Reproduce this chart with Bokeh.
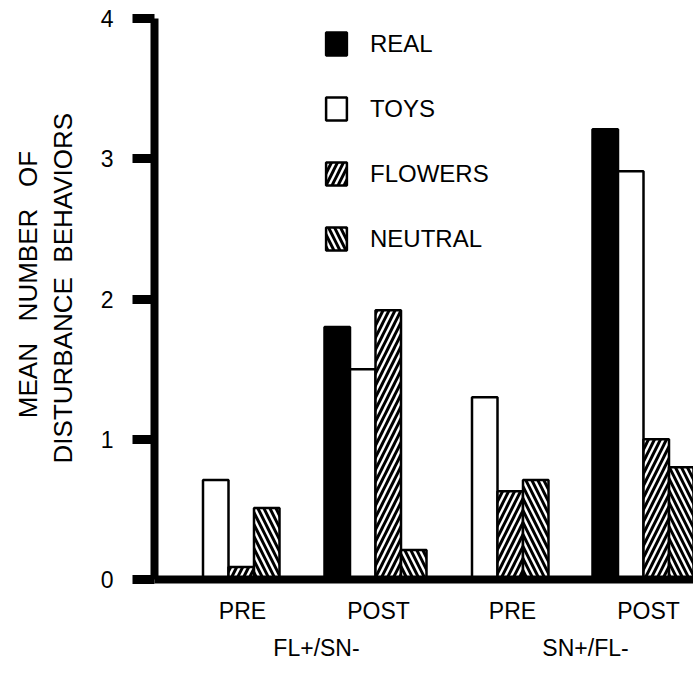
from bokeh.plotting import figure
from bokeh.models import Range1d, FixedTicker, LinearAxis
from bokeh.embed import file_html
from bokeh.resources import INLINE

# ---- data ----
conditions = ["PRE", "POST", "PRE", "POST"]
groups = ["FL+/SN-", "SN+/FL-"]
series_names = ["REAL", "TOYS", "FLOWERS", "NEUTRAL"]
real = [0.0, 1.80, 0.0, 3.21]
toys = [0.71, 1.50, 1.30, 2.91]
flowers = [0.09, 1.92, 0.63, 1.00]
neutral = [0.51, 0.21, 0.71, 0.80]
y_ticks = [0, 1, 2, 3, 4]
y_title_1 = "MEAN NUMBER OF"
y_title_2 = "DISTURBANCE BEHAVIORS"

# ---- layout (x positions of groups / labels in axis units) ----
group_pos = [0.74, 2.21, 3.43, 4.89]
label_pos = [0.88, 2.24, 3.58, 4.94]
group_label_pos = [1.62, 4.31]
bar_w = 0.255

FONT = "Liberation Sans"
NB = "\u00a0"


def spaced(t, lead, gap):
    return NB * lead + t.replace(" ", NB * gap)


p = figure(width=693, height=675, output_backend="svg", toolbar_location=None,
           x_range=Range1d(0, 5.39), y_range=Range1d(0, 4),
           min_border_left=154, min_border_right=0, min_border_top=18, min_border_bottom=96)
p.outline_line_color = None
p.xgrid.grid_line_color = None
p.ygrid.grid_line_color = None
p.background_fill_color = "white"
p.border_fill_color = "white"

styles = [
    (real, -1.5, "black", None),
    (toys, -0.5, "white", None),
    (flowers, 0.5, "white", "/"),
    (neutral, 1.5, "white", "\\"),
]
for name, (vals, off, fill, hatch) in zip(series_names, styles):
    xs = [g + off * bar_w for g in group_pos]
    kw = dict(x=xs, top=vals, bottom=0, width=bar_w, fill_color=fill,
              line_color="black", line_width=2.5, legend_label=name)
    if hatch:
        kw.update(hatch_pattern=hatch, hatch_color="black", hatch_weight=3, hatch_scale=12)
    p.vbar(**kw)

# legend
lg = p.legend[0]
lg.location = (169, 326)
lg.glyph_width = 26
lg.glyph_height = 29
lg.label_height = 29
lg.spacing = 36
lg.padding = 0
lg.margin = 0
lg.label_standoff = 21
lg.border_line_color = None
lg.background_fill_alpha = 0
lg.label_text_font = FONT
lg.label_text_font_size = "24px"
lg.label_text_color = "black"

# y axis
ya = p.yaxis[0]
ya.ticker = FixedTicker(ticks=y_ticks)
ya.axis_line_width = 8
ya.major_tick_line_width = 9
ya.major_tick_out = 22
ya.major_tick_in = 0
ya.minor_tick_line_color = None
ya.major_label_text_font = FONT
ya.major_label_text_font_size = "23px"
ya.major_label_text_color = "black"
ya.major_label_standoff = 19
ya.axis_label = spaced(y_title_2, 3, 2)
ya.axis_label_text_font = FONT
ya.axis_label_text_font_size = "26px"
ya.axis_label_text_font_style = "normal"
ya.axis_label_text_color = "black"
ya.axis_label_standoff = 20

ya2 = LinearAxis(ticker=FixedTicker(ticks=[]), axis_line_color=None,
                 major_tick_line_color=None, minor_tick_line_color=None,
                 axis_label=spaced(y_title_1, 4, 3), axis_label_text_font=FONT,
                 axis_label_text_font_size="26px", axis_label_text_font_style="normal",
                 axis_label_text_color="black", axis_label_standoff=2)
p.add_layout(ya2, "left")

# x axis: line + PRE/POST labels
xa = p.xaxis[0]
xa.ticker = FixedTicker(ticks=label_pos)
xa.major_label_overrides = {pos: lab for pos, lab in zip(label_pos, conditions)}
xa.axis_line_width = 8
xa.major_tick_line_color = None
xa.major_tick_out = 0
xa.major_tick_in = 0
xa.minor_tick_line_color = None
xa.major_label_text_font = FONT
xa.major_label_text_font_size = "23px"
xa.major_label_text_color = "black"
xa.major_label_standoff = 18

xa2 = LinearAxis(ticker=FixedTicker(ticks=group_label_pos),
                 major_label_overrides={pos: lab for pos, lab in zip(group_label_pos, groups)},
                 axis_line_color=None, major_tick_line_color=None, minor_tick_line_color=None,
                 major_tick_out=0, major_tick_in=0,
                 major_label_text_font=FONT, major_label_text_font_size="23px",
                 major_label_text_color="black", major_label_standoff=8)
p.add_layout(xa2, "below")

open("out.html", "w").write(file_html(p, INLINE))
